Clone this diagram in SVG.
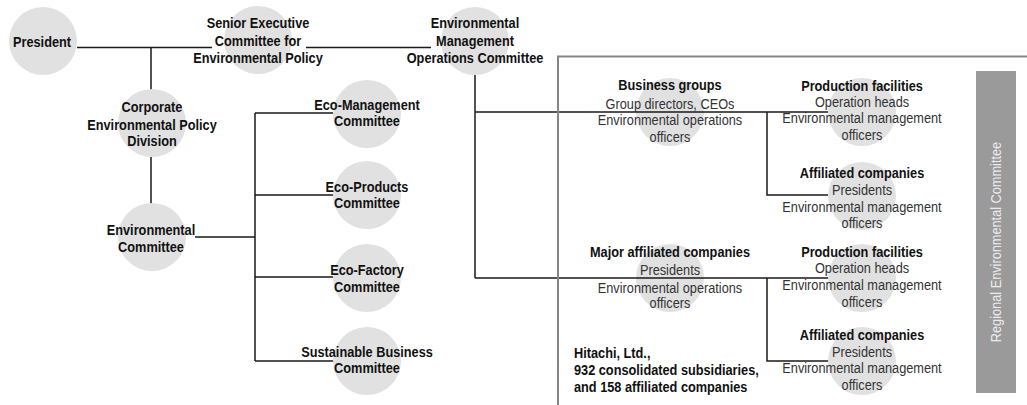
<svg xmlns="http://www.w3.org/2000/svg" width="1027" height="405" viewBox="0 0 1027 405">
<style>
text{font-family:"Liberation Sans",Arial,sans-serif;text-anchor:middle;fill:#111}
.b{font-size:15px;font-weight:bold}
.r{font-size:15px;fill:#333}
.disc{fill:#e1e1e1}
.ln{stroke:#1a1a1a;stroke-width:1.5;fill:none}
.frame{stroke:#858585;stroke-width:2;fill:none}
</style>
<rect width="1027" height="405" fill="#fff"/>

<g id="node-business-groups">
<circle class="disc" cx="670" cy="112" r="34"/>
<g transform="translate(670 0) scale(.85 1)">
<text class="b" x="0" y="90">Business groups</text>
<text class="r" x="0" y="109">Group directors, CEOs</text>
<text class="r" x="0" y="125">Environmental operations</text>
<text class="r" x="0" y="142">officers</text>
</g>
</g>
<g id="node-production-1">
<circle class="disc" cx="862" cy="112" r="34"/>
<g transform="translate(862 0) scale(.85 1)">
<text class="b" x="0" y="91">Production facilities</text>
<text class="r" x="0" y="107">Operation heads</text>
<text class="r" x="0" y="123">Environmental management</text>
<text class="r" x="0" y="140">officers</text>
</g>
</g>
<g id="node-affiliated-1">
<circle class="disc" cx="862" cy="196" r="34"/>
<g transform="translate(862 0) scale(.85 1)">
<text class="b" x="0" y="178">Affiliated companies</text>
<text class="r" x="0" y="195">Presidents</text>
<text class="r" x="0" y="212">Environmental management</text>
<text class="r" x="0" y="228">officers</text>
</g>
</g>
<g id="node-major-affiliated">
<circle class="disc" cx="670" cy="278" r="34"/>
<g transform="translate(670 0) scale(.85 1)">
<text class="b" x="0" y="257">Major affiliated companies</text>
<text class="r" x="0" y="275">Presidents</text>
<text class="r" x="0" y="293">Environmental operations</text>
<text class="r" x="0" y="308">officers</text>
</g>
</g>
<g id="node-production-2">
<circle class="disc" cx="862" cy="278" r="34"/>
<g transform="translate(862 0) scale(.85 1)">
<text class="b" x="0" y="257">Production facilities</text>
<text class="r" x="0" y="273">Operation heads</text>
<text class="r" x="0" y="290">Environmental management</text>
<text class="r" x="0" y="307">officers</text>
</g>
</g>
<g id="node-affiliated-2">
<circle class="disc" cx="862" cy="361" r="34"/>
<g transform="translate(862 0) scale(.85 1)">
<text class="b" x="0" y="340">Affiliated companies</text>
<text class="r" x="0" y="357">Presidents</text>
<text class="r" x="0" y="373">Environmental management</text>
<text class="r" x="0" y="390">officers</text>
</g>
</g>

<g id="connectors">
<path class="ln" d="M77 47.5H212M306 47.5H431M151 47.5V90M151 157V204M195 237H255M255 113V361M255 113H333M255 195H333M255 277H333M255 361H333"/>
<path class="ln" d="M475 75V278M475 112H828M475 278H828M767 112V195H828M767 278V361H828"/>
<path class="frame" d="M558 405V56.5H1027"/>
</g>

<g id="regional-committee">
<rect x="976" y="71" width="40" height="322" fill="#9a9a9a"/>
<text class="r" transform="translate(1001 242) rotate(-90) scale(.85 1)" x="0" y="0" style="fill:#ececec">Regional Environmental Committee</text>
</g>

<g id="note-hitachi" transform="translate(574 0) scale(.85 1)">
<text class="b" x="0" y="358" style="text-anchor:start">Hitachi, Ltd.,</text>
<text class="b" x="0" y="375" style="text-anchor:start">932 consolidated subsidiaries,</text>
<text class="b" x="0" y="392" style="text-anchor:start">and 158 affiliated companies</text>
</g>

<g id="node-president">
<circle class="disc" cx="43" cy="41" r="34"/>
<g transform="translate(42 0) scale(.85 1)">
<text class="b" x="0" y="47">President</text>
</g>
</g>
<g id="node-senior-executive">
<circle class="disc" cx="258" cy="40" r="34"/>
<g transform="translate(258 0) scale(.85 1)">
<text class="b" x="0" y="28">Senior Executive</text>
<text class="b" x="0" y="46">Committee for</text>
<text class="b" x="0" y="63">Environmental Policy</text>
</g>
</g>
<g id="node-env-management-ops">
<circle class="disc" cx="475" cy="41" r="34"/>
<g transform="translate(475 0) scale(.85 1)">
<text class="b" x="0" y="28">Environmental</text>
<text class="b" x="0" y="46">Management</text>
<text class="b" x="0" y="63">Operations Committee</text>
</g>
</g>
<g id="node-corporate">
<circle class="disc" cx="152" cy="123" r="34"/>
<g transform="translate(152 0) scale(.85 1)">
<text class="b" x="0" y="112">Corporate</text>
<text class="b" x="0" y="130">Environmental Policy</text>
<text class="b" x="0" y="146">Division</text>
</g>
</g>
<g id="node-env-committee">
<circle class="disc" cx="152" cy="237" r="34"/>
<g transform="translate(151 0) scale(.85 1)">
<text class="b" x="0" y="235">Environmental</text>
<text class="b" x="0" y="252">Committee</text>
</g>
</g>
<g id="node-eco-management">
<circle class="disc" cx="367" cy="114" r="34"/>
<g transform="translate(367 0) scale(.85 1)">
<text class="b" x="0" y="110">Eco-Management</text>
<text class="b" x="0" y="126">Committee</text>
</g>
</g>
<g id="node-eco-products">
<circle class="disc" cx="367" cy="195" r="34"/>
<g transform="translate(367 0) scale(.85 1)">
<text class="b" x="0" y="192">Eco-Products</text>
<text class="b" x="0" y="208">Committee</text>
</g>
</g>
<g id="node-eco-factory">
<circle class="disc" cx="367" cy="278" r="34"/>
<g transform="translate(367 0) scale(.85 1)">
<text class="b" x="0" y="275">Eco-Factory</text>
<text class="b" x="0" y="292">Committee</text>
</g>
</g>
<g id="node-sustainable">
<circle class="disc" cx="367" cy="361" r="34"/>
<g transform="translate(367 0) scale(.85 1)">
<text class="b" x="0" y="357">Sustainable Business</text>
<text class="b" x="0" y="373">Committee</text>
</g>
</g>
</svg>
